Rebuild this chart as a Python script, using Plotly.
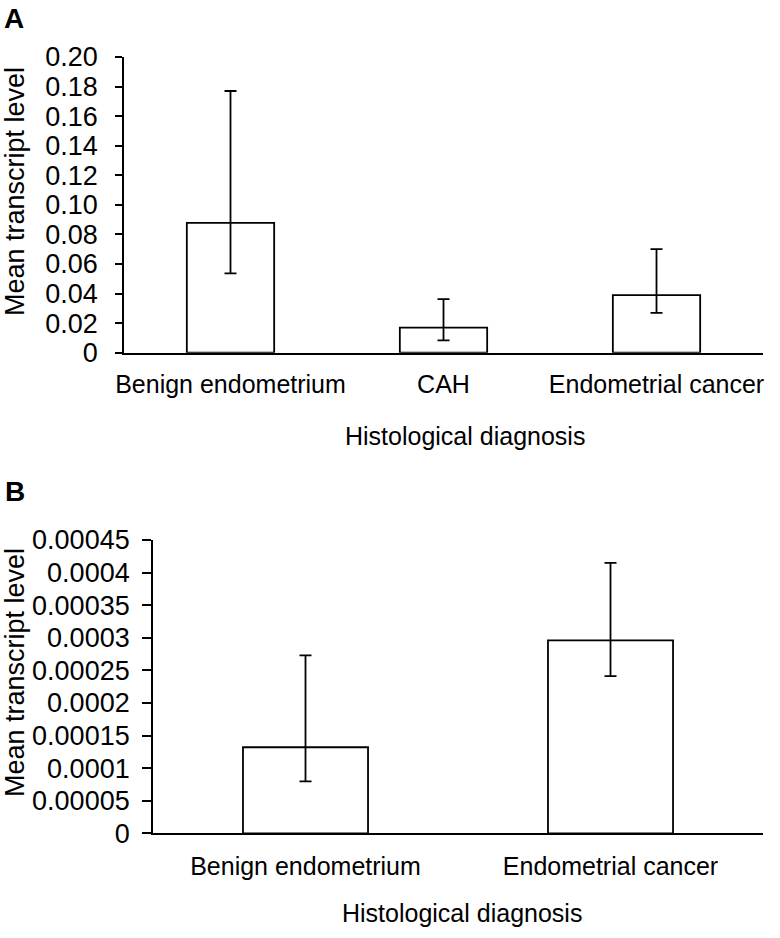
import plotly.graph_objects as go

# ---- Panel A data ----
cats_a = ["Benign endometrium", "CAH", "Endometrial cancer"]
mean_a = [0.0878, 0.0169, 0.0390]
upper_a = [0.177, 0.0363, 0.0700]
lower_a = [0.0537, 0.0084, 0.0270]
ytickvals_a = [0, 0.02, 0.04, 0.06, 0.08, 0.10, 0.12, 0.14, 0.16, 0.18, 0.20]
yticktext_a = ["0", "0.02", "0.04", "0.06", "0.08", "0.10", "0.12", "0.14", "0.16", "0.18", "0.20"]

# ---- Panel B data ----
cats_b = ["Benign endometrium", "Endometrial cancer"]
mean_b = [0.000132, 0.000296]
upper_b = [0.000273, 0.000415]
lower_b = [0.0000798, 0.000241]
ytickvals_b = [0, 0.00005, 0.0001, 0.00015, 0.0002, 0.00025, 0.0003, 0.00035, 0.0004, 0.00045]
yticktext_b = ["0", "0.00005", "0.0001", "0.00015", "0.0002", "0.00025", "0.0003", "0.00035", "0.0004", "0.00045"]

x_title = "Histological diagnosis"
y_title = "Mean transcript level"

W, H = 780, 938
FONT = "Liberation Sans, Arial, Helvetica, sans-serif"
LW = 1.8


def px_x(v):
    return v / W


def px_y(v):
    return 1 - v / H


fig = go.Figure()

fig.add_trace(go.Bar(
    x=cats_a, y=mean_a, xaxis="x", yaxis="y",
    marker=dict(color="white", line=dict(color="black", width=LW)),
    error_y=dict(type="data", symmetric=False,
                 array=[u - m for u, m in zip(upper_a, mean_a)],
                 arrayminus=[m - l for m, l in zip(mean_a, lower_a)],
                 color="black", thickness=LW, width=6),
))

fig.add_trace(go.Bar(
    x=cats_b, y=mean_b, xaxis="x2", yaxis="y2",
    marker=dict(color="white", line=dict(color="black", width=LW)),
    error_y=dict(type="data", symmetric=False,
                 array=[u - m for u, m in zip(upper_b, mean_b)],
                 arrayminus=[m - l for m, l in zip(mean_b, lower_b)],
                 color="black", thickness=LW, width=6),
))

common_x = dict(showline=True, linecolor="black", linewidth=LW, ticks="",
                showgrid=False, zeroline=False, tickfont=dict(size=25, color="black"),
                automargin=False)
common_y = dict(showline=True, linecolor="black", linewidth=LW, ticks="outside",
                tickwidth=LW, tickcolor="black", showgrid=False,
                zeroline=False, tickfont=dict(size=27, color="black"),
                automargin=False)

fig.update_layout(
    template="none",
    width=W, height=H,
    margin=dict(l=0, r=0, t=0, b=0, pad=0),
    paper_bgcolor="white", plot_bgcolor="white",
    showlegend=False,
    bargap=0.59,
    font=dict(family=FONT, color="black"),
    xaxis=dict(domain=[px_x(124), px_x(763)], anchor="y", range=[-0.5, 2.5],
               ticklabelstandoff=8, **common_x),
    yaxis=dict(domain=[px_y(352.7), px_y(57)], anchor="x", range=[0, 0.2],
               tickvals=ytickvals_a, ticktext=yticktext_a,
               ticklen=7, ticklabelstandoff=12, **common_y),
    xaxis2=dict(domain=[px_x(153), px_x(763)], anchor="y2", range=[-0.5, 1.5],
                ticklabelstandoff=10, **common_x),
    yaxis2=dict(domain=[px_y(833.3), px_y(540)], anchor="x2", range=[0, 0.00045],
                tickvals=ytickvals_b, ticktext=yticktext_b,
                ticklen=9, ticklabelstandoff=7, **common_y),
)

annots = [
    dict(text="<b>A</b>", x=px_x(2), y=px_y(18), xanchor="left", yanchor="middle",
         font=dict(size=28)),
    dict(text="<b>B</b>", x=px_x(3), y=px_y(491), xanchor="left", yanchor="middle",
         font=dict(size=28)),
    dict(text=x_title, x=px_x(465), y=px_y(436), xanchor="center", yanchor="middle",
         font=dict(size=25)),
    dict(text=x_title, x=px_x(462), y=px_y(913), xanchor="center", yanchor="middle",
         font=dict(size=25)),
    dict(text=y_title, x=px_x(15), y=px_y(192), xanchor="center", yanchor="middle",
         textangle=-90, font=dict(size=27)),
    dict(text=y_title, x=px_x(15), y=px_y(673), xanchor="center", yanchor="middle",
         textangle=-90, font=dict(size=27)),
]
for a in annots:
    a.update(xref="paper", yref="paper", showarrow=False)
fig.update_layout(annotations=annots)

fig.write_html(
    "out.html",
    config={"displayModeBar": False},
    post_script="document.body.style.margin='0';document.body.style.padding='0';",
)
